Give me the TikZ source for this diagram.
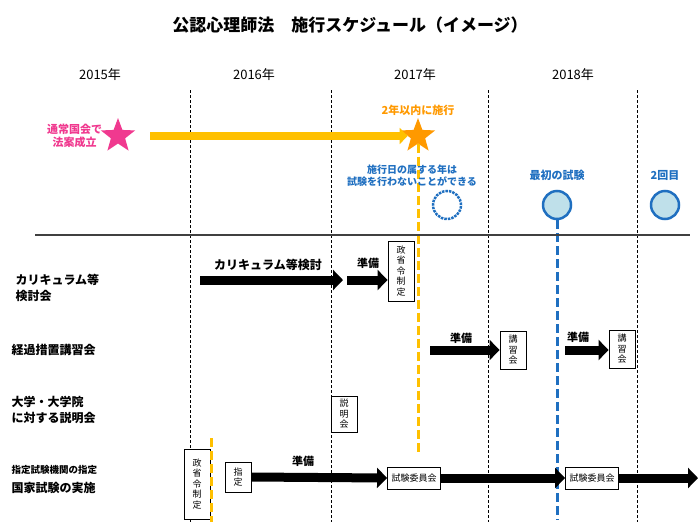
\documentclass[tikz,border=0pt]{standalone}
\usepackage{fontspec}
\setmainfont{Noto Sans CJK JP}
\usetikzlibrary{arrows.meta,shapes.geometric,positioning}
\definecolor{pinkc}{HTML}{F0398F}
\definecolor{orangec}{HTML}{FFC000}
\definecolor{starc}{HTML}{FF9900}
\definecolor{bluec}{HTML}{1F6FC0}
\definecolor{lightb}{HTML}{BFE0EA}

\begin{document}
\begin{tikzpicture}[x=1pt,y=-1pt,
    yearline/.style={densely dashed, line width=0.6pt},
    year/.style={font=\fontsize{13}{15}\selectfont},
    rowlabel/.style={anchor=west, align=left, font=\bfseries\fontsize{12}{16}\selectfont},
    vbox/.style={draw, fill=white, line width=0.9pt, align=center, inner sep=2pt, minimum width=26pt, font=\fontsize{9}{10.5}\selectfont},
    hbox/.style={draw, fill=white, line width=0.9pt, inner sep=4pt, minimum height=22pt, font=\fontsize{9}{10.5}\selectfont},
    fatarrow/.style={line width=9pt, -{Triangle[length=10pt,width=20pt]}},
    note/.style={font=\bfseries\fontsize{11}{13}\selectfont},
    exam/.style={circle, draw=bluec, fill=lightb, line width=2.5pt, minimum size=28pt}
]
\useasboundingbox (0,0) rectangle (700,525);

\node[font=\bfseries\fontsize{17}{20}\selectfont] (title) at (350,25) {公認心理師法\quad 施行スケジュール（イメージ）};

% years
\node[year] (y15) at (100,75) {2015年};
\node[year] (y16) at (254,75) {2016年};
\node[year] (y17) at (415,75) {2017年};
\node[year] (y18) at (573,75) {2018年};
\foreach \x in {190,331,488,637}
  \draw[yearline] (\x,90) -- (\x,522);

% top events
\node[star, star points=5, star point ratio=2.4, fill=pinkc, minimum size=36pt, inner sep=0pt] (pstar) at (118,136) {};
\node[note, text=pinkc, align=center, left=2pt of pstar] (law) {通常国会で\\法案成立};
\node[star, star points=5, star point ratio=2.4, fill=starc, minimum size=36pt, inner sep=0pt] (ostar) at (418,136) {};
\node[note, text=starc, above=-2pt of ostar] (within) {2年以内に施行};
\draw[line width=8pt, orangec, -{Triangle[length=8pt,width=16pt]}] (150,136) -- (ostar.west);
\draw[orangec, line width=3pt, dash pattern=on 9pt off 4pt] (ostar.south) -- (418,455);

\node[note, text=bluec, align=center, font=\bfseries\fontsize{10}{12}\selectfont] (skip) at (412,176) {施行日の属する年は\\試験を行わないことができる};
\node[circle, draw=bluec, line width=2.5pt, densely dotted, minimum size=28pt] (c0) at (447,205) {};
\node[exam] (c1) at (557,205) {};
\node[note, text=bluec, above=6pt of c1] (first) {最初の試験};
\node[exam] (c2) at (665,205) {};
\node[note, text=bluec, above=6pt of c2] (second) {2回目};
\draw[bluec, line width=3pt, dash pattern=on 9pt off 4pt] (c1.south) -- (557,520);

\draw[line width=1.5pt, black!75] (35,235) -- (690,235);

% row labels
\node[rowlabel] (r1) at (12,288) {カリキュラム等\\検討会};
\node[rowlabel] (r2) at (8,350) {経過措置講習会};
\node[rowlabel] (r3) at (8,410) {大学・大学院\\に対する説明会};
\node[rowlabel, font=\bfseries\fontsize{9.5}{11}\selectfont] (r4a) at (8,470) {指定試験機関の指定};
\node[rowlabel] (r4b) at (8,488) {国家試験の実施};

% row 1
\node[vbox, minimum height=60pt] (law1) at (401,271) {政\\省\\令\\制\\定};
\coordinate (s1) at (200,280);
\coordinate (m1) at (347,280);
\draw[fatarrow] (s1) -- (343,280);
\node[note, font=\bfseries\fontsize{12}{14}\selectfont] at (268,265) {カリキュラム等検討};
\draw[fatarrow] (m1) -- (law1.west |- m1);
\node[note] at (368,263) {準備};

% row 2
\node[vbox, minimum height=38pt] (kou1) at (513,350) {講\\習\\会};
\node[vbox, minimum height=38pt] (kou2) at (622,349) {講\\習\\会};
\coordinate (s2) at (430,350);
\coordinate (s3) at (565,350);
\draw[fatarrow] (s2) -- (kou1.west);
\node[note] at (461,338) {準備};
\draw[fatarrow] (s3) -- (kou2.west |- s3);
\node[note] at (578,337) {準備};

% row 3
\node[vbox, minimum height=36pt] (setsu) at (344,414) {説\\明\\会};

% row 4
\node[vbox, minimum height=70pt] (law2) at (197,484) {政\\省\\令\\制\\定};
\draw[orangec, line width=3pt, dash pattern=on 9pt off 4pt] (211,438) -- (211,522);
\node[vbox, minimum height=30pt] (shitei) at (238,477) {指\\定};
\node[hbox] (iin1) at (414,478) {試験委員会};
\node[hbox] (iin2) at (592,478) {試験委員会};
\coordinate (e4) at (698,478);
\draw[fatarrow] (shitei.east) -- (iin1.west);
\node[note] at (303,461) {準備};
\draw[fatarrow] (iin1.east) -- (iin2.west);
\draw[fatarrow] (iin2.east) -- (e4);
\end{tikzpicture}
\end{document}
